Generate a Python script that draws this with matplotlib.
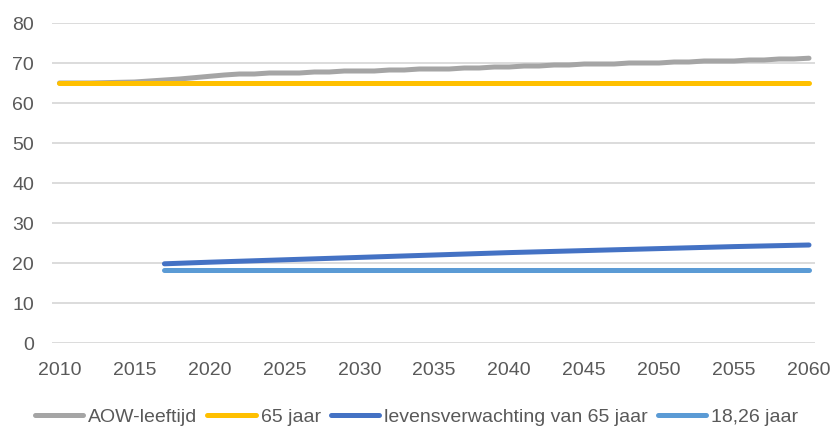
import matplotlib.pyplot as plt

plt.rcParams['font.family'] = ['Liberation Sans', 'DejaVu Sans']

# AOW-leeftijd
jaren_aow = list(range(2010, 2061))
aow = [65, 65, 65, 65.08, 65.17, 65.25, 65.5, 65.75, 66, 66.33,
       66.67, 67, 67.25, 67.25, 67.5, 67.5, 67.5, 67.75, 67.75, 68,
       68, 68, 68.25, 68.25, 68.5, 68.5, 68.5, 68.75, 68.75, 69,
       69, 69.25, 69.25, 69.5, 69.5, 69.75, 69.75, 69.75, 70, 70,
       70, 70.25, 70.25, 70.5, 70.5, 70.5, 70.75, 70.75, 71, 71,
       71.2]

# 65 jaar
jaren_65 = [2010, 2060]
vast_65 = [65, 65]

# levensverwachting van 65 jaar
jaren_lv = [2017, 2020, 2025, 2030, 2035, 2040, 2045, 2050, 2055, 2060]
levensverw = [19.8, 20.2, 20.8, 21.4, 22.0, 22.6, 23.1, 23.6, 24.1, 24.5]

# 18,26 jaar
jaren_18 = [2017, 2060]
vast_18 = [18.26, 18.26]

fig = plt.figure(figsize=(8.33, 4.30), dpi=100)
ax = fig.add_axes([52/833, 87/430, (815-52)/833, (343-23)/430])

lw = 3.6
ax.plot(jaren_aow, aow, color='#A5A5A5', lw=lw, solid_capstyle='round',
        solid_joinstyle='round', label='AOW-leeftijd', zorder=3)
ax.plot(jaren_65, vast_65, color='#FFC000', lw=lw, solid_capstyle='round',
        label='65 jaar', zorder=4)
ax.plot(jaren_lv, levensverw, color='#4472C4', lw=lw, solid_capstyle='round',
        solid_joinstyle='round', label='levensverwachting van 65 jaar', zorder=3)
ax.plot(jaren_18, vast_18, color='#5B9BD5', lw=lw, solid_capstyle='round',
        label='18,26 jaar', zorder=3)

ax.set_xlim(2009.5, 2060.4)
ax.set_ylim(0, 80)
ax.set_xticks(range(2010, 2061, 5))
ax.set_yticks(range(0, 81, 10))
ax.grid(axis='y', color='#D9D9D9', lw=1.3)
ax.set_axisbelow(True)
for s in ax.spines.values():
    s.set_visible(False)
ax.tick_params(length=0, labelsize=14, labelcolor='#595959')
ax.tick_params(axis='x', pad=14)
ax.tick_params(axis='y', pad=13)

fig.legend(loc='center', bbox_to_anchor=(0.5, 0.03), ncol=4, frameon=False,
           fontsize=14, handlelength=2.5, handletextpad=0.25, columnspacing=0.5,
           labelcolor='#595959')

fig.savefig('out.png', dpi=100)
